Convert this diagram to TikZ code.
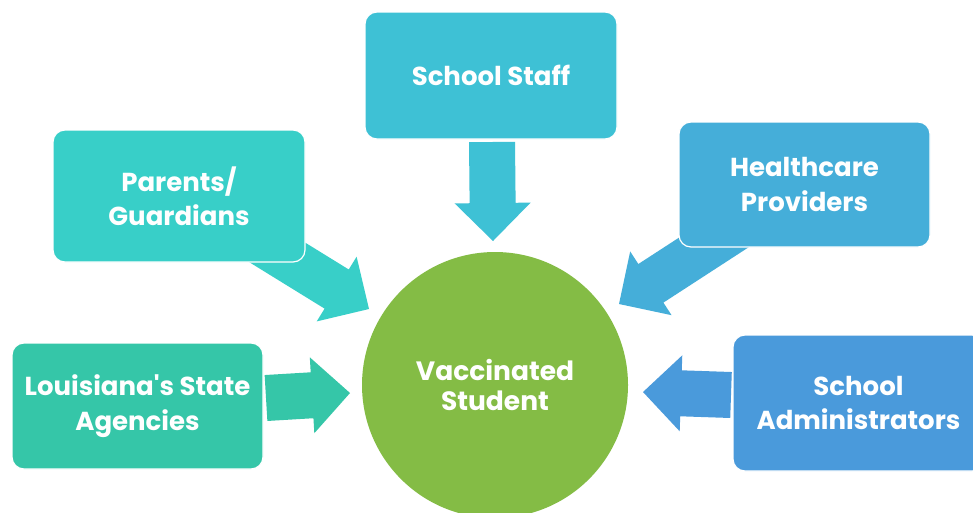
\documentclass[tikz,border=0pt]{standalone}
\usepackage{fontspec}
\newfontfamily\popfont{Poppins}
\usetikzlibrary{calc}
\definecolor{cLA}{HTML}{35C6A8}
\definecolor{cPG}{HTML}{38CFC8}
\definecolor{cSS}{HTML}{3EC1D5}
\definecolor{cHP}{HTML}{45AED9}
\definecolor{cSA}{HTML}{4A9ADB}
\definecolor{cVS}{HTML}{84BC45}
\tikzset{
  boxnode/.style={rectangle, rounded corners=12pt, draw=white, line width=1.2pt,
    text=white, align=center, inner sep=0pt,
    font=\popfont\bfseries\fontsize{26}{34.5}\selectfont},
  hubnode/.style={circle, fill=cVS, text=white, align=center, inner sep=0pt,
    minimum size=266pt, font=\popfont\bfseries\fontsize{26.5}{30.5}\selectfont},
}
\newcommand{\blockarrow}[3]{%
  \coordinate (#1b) at ($(#2)!38pt!(#1)$);
  \fill[#3] ($(#1)!23pt!90:(#2)$) -- ($(#1b)!23pt!90:(#2)$) -- ($(#1b)!38pt!90:(#2)$)
    -- (#2) -- ($(#1b)!38pt!-90:(#2)$) -- ($(#1b)!23pt!-90:(#2)$)
    -- ($(#1)!23pt!-90:(#2)$) -- cycle;}
\begin{document}
\begin{tikzpicture}[x=1pt, y=-1pt]
\clip (0,0) rectangle (973,512);
\fill[white] (0,0) rectangle (973,512);
% arrow end points
\coordinate (latail) at (266,398);
\coordinate (latip) at (350,393);
\coordinate (satail) at (731,395);
\coordinate (satip) at (643,392);
\coordinate (sstail) at (492,142);
\coordinate (sstip) at (493,241);
\coordinate (pgtail) at (250,235.6);
\coordinate (pgtip) at (369,309);
\coordinate (hptail) at (753,217);
\coordinate (hptip) at (619,304);
\blockarrow{latail}{latip}{cLA}
\blockarrow{satail}{satip}{cSA}
\blockarrow{sstail}{sstip}{cSS}
\blockarrow{pgtail}{pgtip}{cPG}
\blockarrow{hptail}{hptip}{cHP}
% boxes
\node[boxnode, fill=cLA, minimum width=251pt, minimum height=126pt] (la) at (137.5,406)
  {Louisiana's State\\Agencies};
\node[boxnode, fill=cPG, minimum width=252pt, minimum height=132pt] (pg) at (179,196)
  {Parents/\\Guardians};
\node[boxnode, fill=cSS, minimum width=252pt, minimum height=127pt] (ss) at (491,75.5)
  {School Staff};
\node[boxnode, fill=cHP, minimum width=251pt, minimum height=125pt] (hp) at (804.5,184.5)
  {Healthcare\\Providers};
\node[boxnode, fill=cSA, minimum width=251pt, minimum height=136pt] (sa) at (858.5,403)
  {School\\Administrators};
\node[hubnode] (vs) at (495,385) {Vaccinated\\Student};
\end{tikzpicture}
\end{document}
